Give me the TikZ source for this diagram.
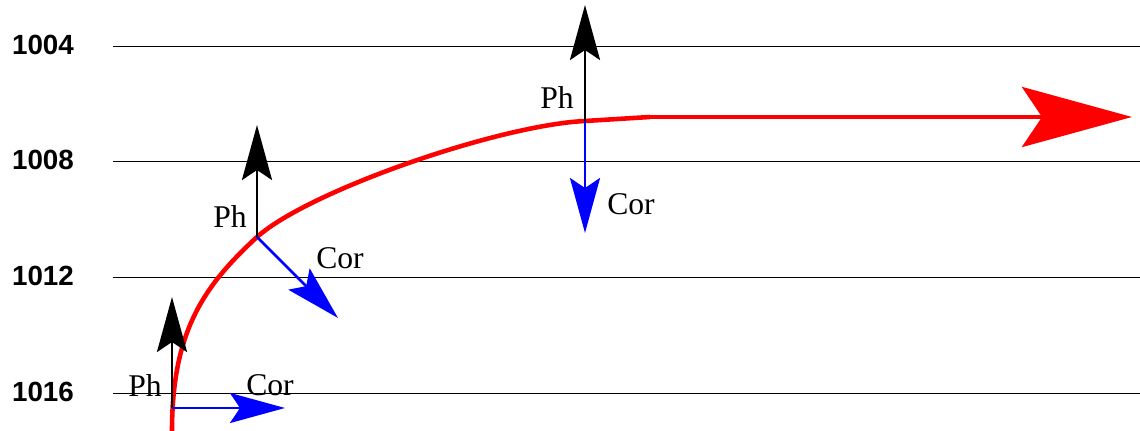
\documentclass[tikz,border=0pt]{standalone}
\usepackage{fontspec}
\setmainfont{Liberation Serif}
\setsansfont{Liberation Sans}
\usepackage{xcolor}
\usetikzlibrary{arrows.meta, positioning}
\definecolor{track}{HTML}{FF0000}
\definecolor{cor}{HTML}{0000FF}
\definecolor{ink}{HTML}{000000}
\definecolor{rulecolor}{HTML}{000000}
\tikzset{
  isobar/.style ={draw=rulecolor, line width=0.5pt},
  plabel/.style ={font=\sffamily\bfseries\fontsize{15.8}{18}\selectfont, anchor=center},
  phvec/.style  ={-{Stealth[length=1.1cm,width=0.6cm,inset=0.2cm]}, line width=1.7pt, draw=ink},
  corvec/.style ={-{Stealth[length=1.1cm,width=0.6cm,inset=0.2cm]}, line width=1.5pt, draw=cor, fill=cor},
  wind/.style   ={line width=2.6pt, draw=track},
  windhead/.style={-{Stealth[length=2.2cm,width=1.2cm,inset=0.4cm]}, line width=2.6pt, draw=track, fill=track},
  vlabel/.style ={font=\fontsize{18}{20}\selectfont, inner sep=0pt}
}
\begin{document}
\begin{tikzpicture}[x=0.02cm, y=-0.02cm]
  \useasboundingbox (0,0) rectangle (1140,431);

  % isobars
  \foreach \yy/\pp in {46/1004, 161/1008, 277/1012, 393/1016} {
    \node[plabel] (lab\pp) at (43,\yy-1) {\pp};
    \draw[isobar] (113,\yy) -- (1140,\yy);
  }

  % wind track
  \coordinate (w0) at (172,431);
  \coordinate (w1) at (172,408);
  \coordinate (w2) at (257,237);
  \coordinate (w3) at (585,121);
  \coordinate (w4) at (650,117);
  \coordinate (w5) at (1132,117);
  \draw[wind] (w0) .. controls (172,330) and (205,285) .. (w2)
              .. controls (310,190) and (500,125) .. (w3) -- (w4);
  \draw[windhead] (w4) -- (w5);

  % forces
  \coordinate (ph1) at (172,297);
  \coordinate (co1) at (285,408);
  \coordinate (ph2) at (257,125);
  \coordinate (co2) at (338,318);
  \coordinate (ph3) at (585,5);
  \coordinate (co3) at (585,233);

  \draw[phvec]  (w1) -- (ph1);
  \draw[corvec] (w1) -- (co1);
  \draw[phvec]  (w2) -- (ph2);
  \draw[corvec] (w2) -- (co2);
  \draw[phvec]  (w3) -- (ph3);
  \draw[corvec] (w3) -- (co3);

  \node[vlabel] (tph1) at (145,386) {Ph};
  \node[vlabel] (tco1) at (270,385) {Cor};
  \node[vlabel] (tph2) at (230,217) {Ph};
  \node[vlabel] (tco2) at (340,258) {Cor};
  \node[vlabel] (tph3) at (557,98)  {Ph};
  \node[vlabel] (tco3) at (631,204) {Cor};
\end{tikzpicture}
\end{document}
